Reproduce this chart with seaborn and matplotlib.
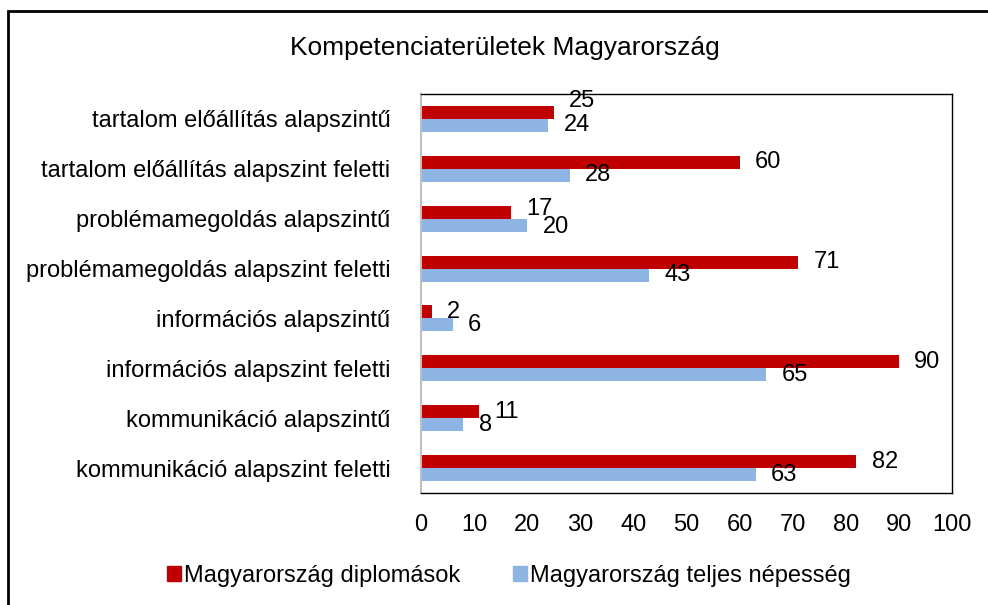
import matplotlib
matplotlib.use("Agg")
import matplotlib.pyplot as plt
import seaborn as sns
import pandas as pd
from matplotlib.patches import Rectangle

categories = [
    "tartalom előállítás alapszintű",
    "tartalom előállítás alapszint feletti",
    "problémamegoldás alapszintű",
    "problémamegoldás alapszint feletti",
    "információs alapszintű",
    "információs alapszint feletti",
    "kommunikáció alapszintű",
    "kommunikáció alapszint feletti",
]
diplomasok = [25, 60, 17, 71, 2, 90, 11, 82]
teljes = [24, 28, 20, 43, 6, 65, 8, 63]
series_names = ["Magyarország diplomások", "Magyarország teljes népesség"]
colors = ["#C00000", "#8EB4E3"]
xticks = [0, 10, 20, 30, 40, 50, 60, 70, 80, 90, 100]
title = "Kompetenciaterületek Magyarország"

df = pd.DataFrame({
    "kategoria": categories * 2,
    "ertek": diplomasok + teljes,
    "sorozat": [series_names[0]] * len(categories) + [series_names[1]] * len(categories),
})

sns.set_style("white")
plt.rcParams["font.family"] = ["Liberation Sans", "DejaVu Sans"]
plt.rcParams["text.color"] = "black"
plt.rcParams["xtick.color"] = "black"
plt.rcParams["ytick.color"] = "black"
plt.rcParams["axes.labelcolor"] = "black"

FS = 17

fig = plt.figure(figsize=(9.88, 6.05), dpi=100)
ax = fig.add_axes([421 / 988, 1 - 493 / 605, (952 - 421) / 988, (493 - 94) / 605])

sns.barplot(data=df, x="ertek", y="kategoria", hue="sorozat", hue_order=series_names,
            palette=colors, orient="h", width=0.52, gap=0, ax=ax,
            saturation=1, errorbar=None, edgecolor="none", legend=True)

ax.set_xlim(0, 100)
ax.set_xticks(xticks)
ax.set_xticklabels([str(t) for t in xticks], fontsize=FS)
ax.tick_params(axis="y", labelsize=FS, length=0, pad=22, labelcolor="black")
ax.tick_params(axis="x", length=0, pad=15, labelcolor="black")
ax.set_xlabel("")
ax.set_ylabel("")
for s in ["top", "right", "bottom"]:
    ax.spines[s].set_color("black")
    ax.spines[s].set_linewidth(1.0)
ax.spines["left"].set_color("#BFBFBF")
ax.spines["left"].set_linewidth(1.5)

# data labels
label_dy = {(0, 0): 8, (0, 2): 2, (1, 2): -1}
for hi, cont in enumerate(ax.containers):
    for ci, bar in enumerate(cont):
        w = bar.get_width()
        yc = bar.get_y() + bar.get_height() / 2
        dy = label_dy.get((hi, ci), 0)
        ax.annotate(f"{w:g}", xy=(w, yc), xytext=(11, dy), textcoords="offset points",
                    ha="left", va="center", fontsize=FS, color="black",
                    annotation_clip=False)

ax.legend_.remove()
handles = [Rectangle((0, 0), 1, 1, color=c) for c in colors]
fig.legend(handles, series_names, loc="center", bbox_to_anchor=(509 / 988, 1 - 576 / 605),
           ncol=2, frameon=False, fontsize=FS, handlelength=0.6, handleheight=0.6,
           handletextpad=0.15, columnspacing=2.2, labelcolor="black")

fig.text(505 / 988, 1 - 48 / 605, title, ha="center", va="center", fontsize=19, color="black")

# outer chart border
fig.patches.append(Rectangle((8 / 988, -0.05), 1.2, 1 - 11 / 605 + 0.05, transform=fig.transFigure,
                             fill=False, edgecolor="black", linewidth=2, zorder=0))

fig.savefig("out.png", dpi=100)
